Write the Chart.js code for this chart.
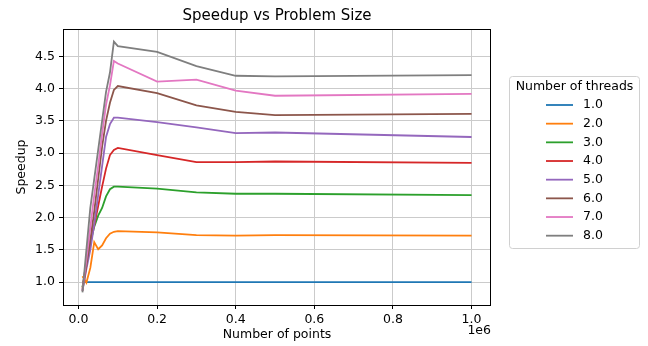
<!DOCTYPE html>
<html>
<head>
<meta charset="utf-8">
<script src="https://cdn.jsdelivr.net/npm/chart.js@4"></script>
<style>
  body { margin: 0; background: #fff; }
</style>
</head>
<body>
<canvas id="myChart" width="648" height="346"></canvas>
<script>
// problem sizes (number of points)
const sizes = [10000, 20000, 30000, 40000, 50000, 60000, 70000, 80000, 90000, 100000, 200000, 300000, 400000, 500000, 1000000];

const threadLabels = ['1.0', '2.0', '3.0', '4.0', '5.0', '6.0', '7.0', '8.0'];

const speedup1 = [1.00, 1.00, 1.00, 1.00, 1.00, 1.00, 1.00, 1.00, 1.00, 1.00, 1.00, 1.00, 1.00, 1.00, 1.00];
const speedup2 = [1.09, 0.99, 1.22, 1.62, 1.51, 1.57, 1.68, 1.75, 1.78, 1.79, 1.77, 1.73, 1.72, 1.73, 1.72];
const speedup3 = [0.92, 1.27, 1.60, 1.86, 2.03, 2.15, 2.33, 2.44, 2.48, 2.48, 2.45, 2.39, 2.37, 2.37, 2.35];
const speedup4 = [0.90, 1.32, 1.65, 1.88, 2.18, 2.48, 2.76, 2.97, 3.05, 3.08, 2.97, 2.86, 2.86, 2.87, 2.85];
const speedup5 = [0.87, 1.20, 1.50, 1.90, 2.35, 2.80, 3.25, 3.45, 3.55, 3.55, 3.48, 3.40, 3.31, 3.32, 3.25];
const speedup6 = [0.86, 1.25, 1.65, 2.10, 2.60, 3.10, 3.50, 3.78, 3.98, 4.04, 3.93, 3.74, 3.64, 3.59, 3.61];
const speedup7 = [0.87, 1.35, 1.85, 2.35, 2.80, 3.30, 3.75, 4.05, 4.43, 4.39, 4.11, 4.14, 3.97, 3.89, 3.92];
const speedup8 = [0.84, 1.50, 2.15, 2.60, 3.05, 3.50, 3.95, 4.25, 4.73, 4.66, 4.57, 4.35, 4.20, 4.19, 4.21];

const xTickValues = [0, 200000, 400000, 600000, 800000, 1000000];
const xTickLabels = ['0.0', '0.2', '0.4', '0.6', '0.8', '1.0'];
const yTickValues = [1.0, 1.5, 2.0, 2.5, 3.0, 3.5, 4.0, 4.5];
const yTickLabels = ['1.0', '1.5', '2.0', '2.5', '3.0', '3.5', '4.0', '4.5'];

document.addEventListener('DOMContentLoaded', () => {
    const ctx = document.getElementById('myChart');
    const colores = ['#1f77b4', '#ff7f0e', '#2ca02c', '#d62728', '#9467bd', '#8c564b', '#e377c2', '#7f7f7f'];
    const series = [speedup1, speedup2, speedup3, speedup4, speedup5, speedup6, speedup7, speedup8];
    const fuente = 'DejaVu Sans';

    const datasets = series.map((vals, i) => ({
        label: threadLabels[i],
        data: sizes.map((s, j) => ({ x: s, y: vals[j] })),
        borderColor: colores[i],
        backgroundColor: colores[i],
        borderWidth: 1.8,
        pointRadius: 0,
        tension: 0,
        fill: false,
        order: series.length - i
    }));

    // frame, offset text and matplotlib-like legend box
    const extras = {
        id: 'extras',
        afterDatasetsDraw(chart) {
            const c = chart.ctx;
            const a = chart.chartArea;
            c.save();
            c.strokeStyle = '#000';
            c.lineWidth = 1;
            c.strokeRect(Math.round(a.left) + 0.5, Math.round(a.top) + 0.5, Math.round(a.right - a.left) - 1, Math.round(a.bottom - a.top));
            c.restore();
        },
        afterDraw(chart) {
            const c = chart.ctx;
            const a = chart.chartArea;
            c.save();
            c.fillStyle = '#000';
            c.font = '12.5px "' + fuente + '"';
            c.textAlign = 'right';
            c.textBaseline = 'middle';
            c.fillText('1e6', a.right, 331);

            // legend
            const bx = 509.5, by = 76.5, bw = 130, bh = 172;
            c.beginPath();
            c.roundRect(bx, by, bw, bh, 3);
            c.fillStyle = 'rgba(255,255,255,0.8)';
            c.fill();
            c.strokeStyle = '#d0d0d0';
            c.lineWidth = 1;
            c.stroke();
            c.fillStyle = '#000';
            c.textAlign = 'center';
            c.fillText('Number of threads', bx + bw / 2, 87);
            c.textAlign = 'left';
            chart.data.datasets.forEach((ds, i) => {
                const y = 105 + i * 18.67;
                c.beginPath();
                c.moveTo(546, y);
                c.lineTo(573, y);
                c.strokeStyle = ds.borderColor;
                c.lineWidth = 1.8;
                c.stroke();
                c.fillStyle = '#000';
                c.fillText(ds.label, 583, y);
            });
            c.restore();
        }
    };

    new Chart(ctx, {
        type: 'line',
        data: { datasets: datasets },
        options: {
            responsive: false,
            animation: false,
            devicePixelRatio: 1,
            layout: { padding: { left: 0, right: 157, top: 0, bottom: 0 } },
            plugins: {
                legend: { display: false },
                tooltip: { enabled: false },
                title: {
                    display: true,
                    text: 'Speedup vs Problem Size',
                    fullSize: false,
                    color: '#000',
                    font: { family: fuente, size: 15, weight: 'normal', lineHeight: 1.2 },
                    padding: { top: 7, bottom: 4 }
                }
            },
            scales: {
                x: {
                    type: 'linear',
                    min: -39500,
                    max: 1049500,
                    afterFit: (scale) => { scale.height = 41; },
                    afterBuildTicks: (scale) => { scale.ticks = xTickValues.map(v => ({ value: v })); },
                    ticks: {
                        autoSkip: false,
                        maxRotation: 0,
                        color: '#000',
                        padding: 3,
                        font: { family: fuente, size: 12.5 },
                        callback: (v, i) => xTickLabels[i]
                    },
                    grid: { color: '#cbcbcb', lineWidth: 1, tickColor: '#000', tickLength: 4 },
                    border: { display: false },
                    title: {
                        display: true,
                        text: 'Number of points',
                        color: '#000',
                        font: { family: fuente, size: 12.5, lineHeight: 1.2 },
                        padding: { top: 0, bottom: 3.5 }
                    }
                },
                y: {
                    min: 0.645,
                    max: 4.925,
                    afterFit: (scale) => { scale.width = 63; },
                    afterBuildTicks: (scale) => { scale.ticks = yTickValues.map(v => ({ value: v })); },
                    ticks: {
                        autoSkip: false,
                        color: '#000',
                        padding: 4,
                        font: { family: fuente, size: 12.5 },
                        callback: (v, i) => yTickLabels[i]
                    },
                    grid: { color: '#cbcbcb', lineWidth: 1, tickColor: '#000', tickLength: 4 },
                    border: { display: false },
                    title: {
                        display: true,
                        text: 'Speedup',
                        color: '#000',
                        font: { family: fuente, size: 12.5, lineHeight: 1.2 },
                        padding: { top: 14.5, bottom: 0 }
                    }
                }
            }
        },
        plugins: [extras]
    });
});
</script>
</body>
</html>
